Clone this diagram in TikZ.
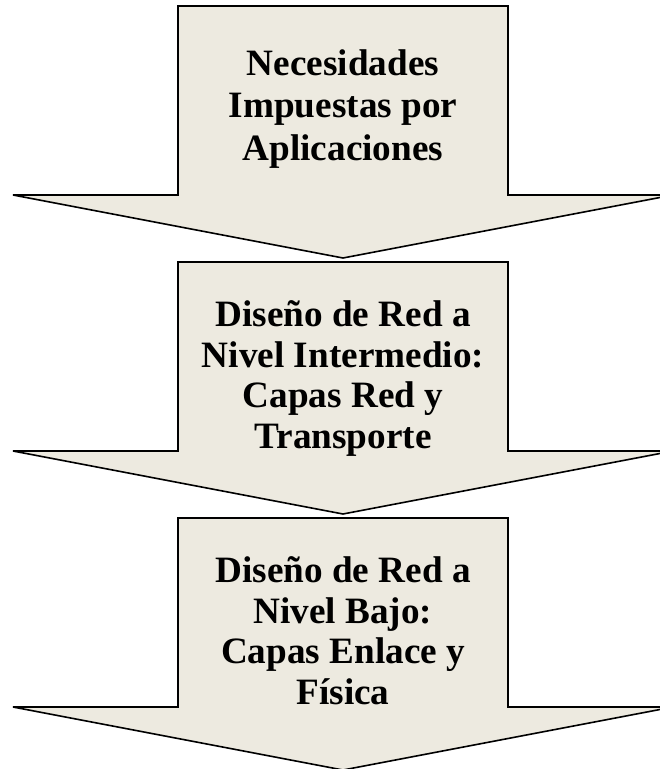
\documentclass[tikz,border=0pt]{standalone}
\usepackage{fontspec}
\setmainfont{Liberation Serif}
\definecolor{arrowfill}{RGB}{237,234,224}
\tikzset{
  bigarrow/.style={fill=arrowfill, draw=black, line width=1.6pt, line join=miter},
  arrowtext/.style={font=\bfseries\fontsize{37.2}{#1}\selectfont, align=center, anchor=base, inner sep=0pt}
}
\begin{document}
\begin{tikzpicture}[x=1pt,y=-1pt]
\useasboundingbox (0,0) rectangle (660,769);
\clip (0,0) rectangle (660,769);
\foreach \dy in {0,256,512}{
  \draw[bigarrow] (178,6+\dy) -- (508,6+\dy) -- (508,195+\dy) -- (673,195+\dy) -- (343,258+\dy) -- (13,195+\dy) -- (178,195+\dy) -- cycle;
}
\node[arrowtext=42.5] (t1) at (343,160) {Necesidades\\Impuestas por\\Aplicaciones};
\node[arrowtext=40.5] (t2) at (343,448) {Diseño de Red a\\Nivel Intermedio:\\Capas Red y\\Transporte};
\node[arrowtext=40.5] (t3) at (343,704) {Diseño de Red a\\Nivel Bajo:\\Capas Enlace y\\Física};
\end{tikzpicture}
\end{document}
